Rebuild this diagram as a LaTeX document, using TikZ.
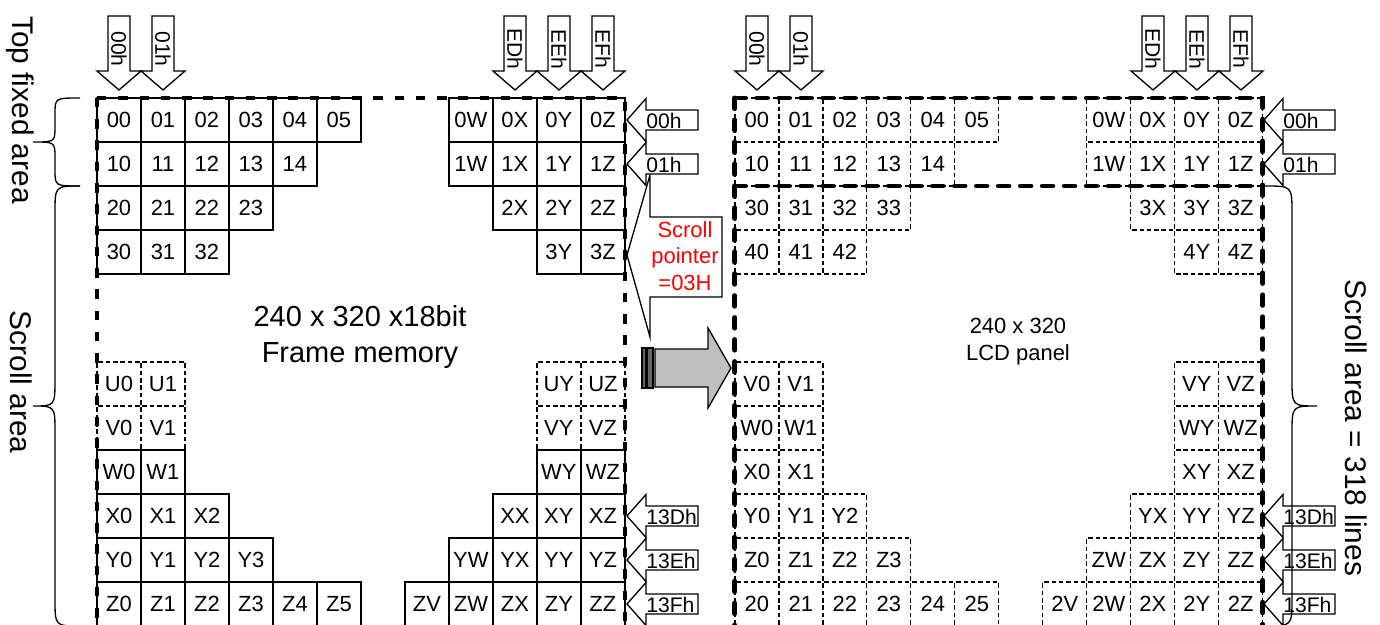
\documentclass[tikz,border=0pt]{standalone}
\usepackage{fontspec}
\setmainfont{Liberation Sans}

% 一行格子
\newcommand\cellrow[4]{%
  \foreach \col/\lab in {#4}
    \node[#2] (#1-#3-\col) at (\col+0.5,#3+0.5) {\lab};%
}
% 向下的块箭头
\newcommand\downblock[3]{%
  \draw[blockarrow] (#2-11,16) -- (#2+11,16) -- (#2+11,71) -- (#2+22,71)
    -- (#2,90) -- (#2-22,71) -- (#2-11,71) -- cycle;
  \node[arrowlabel, rotate=-90] (#1) at (#2,49) {#3};%
}
% 向左的块箭头
\newcommand\leftblock[4]{%
  \draw[blockarrow] (#2,#3) -- (#2+19,#3-21.5) -- (#2+19,#3-10) -- (#2+71,#3-10)
    -- (#2+71,#3+10) -- (#2+19,#3+10) -- (#2+19,#3+21.5) -- cycle;
  \node[arrowlabel, anchor=west] (#1) at (#2+19,#3+1) {#4};%
}

\begin{document}
\begin{tikzpicture}[x=0.02cm, y=-0.02cm,
    cellbox/.style={draw, line width=0.75pt, minimum size=0.88cm, inner sep=0pt,
      outer sep=0pt, font=\fontsize{12.5}{14}\selectfont},
    dashcell/.style={cellbox, dash pattern=on 2.6pt off 1.5732pt, dash phase=3.3866pt},
    blockarrow/.style={draw, fill=white, line width=0.75pt, line join=miter},
    arrowlabel/.style={inner sep=0pt, font=\fontsize{12}{14}\selectfont},
    memframe/.style={line width=2.5pt, dash pattern=on 5.4pt off 6.7pt},
    lcdframe/.style={line width=2.8pt, line cap=round, dash pattern=on 6pt off 6.5pt},
    sidelabel/.style={font=\fontsize{17}{20}\selectfont, rotate=-90},
    brace/.style={line width=0.75pt}]
  \useasboundingbox (0,0) rectangle (1380,625);
  \clip (0,0) rectangle (1380,625);

  % 帧存储器
  \begin{scope}[xshift=1.94cm, yshift=-1.96cm, x=0.88cm, y=-0.88cm]
    \cellrow{m}{cellbox}{0}{0/00,1/01,2/02,3/03,4/04,5/05,8/0W,9/0X,10/0Y,11/0Z}
    \cellrow{m}{cellbox}{1}{0/10,1/11,2/12,3/13,4/14,8/1W,9/1X,10/1Y,11/1Z}
    \cellrow{m}{cellbox}{2}{0/20,1/21,2/22,3/23,9/2X,10/2Y,11/2Z}
    \cellrow{m}{cellbox}{3}{0/30,1/31,2/32,10/3Y,11/3Z}
    \cellrow{m}{dashcell}{6}{0/U0,1/U1,10/UY,11/UZ}
    \cellrow{m}{dashcell}{7}{0/V0,1/V1,10/VY,11/VZ}
    \cellrow{m}{cellbox}{8}{0/W0,1/W1,10/WY,11/WZ}
    \cellrow{m}{cellbox}{9}{0/X0,1/X1,2/X2,9/XX,10/XY,11/XZ}
    \cellrow{m}{cellbox}{10}{0/Y0,1/Y1,2/Y2,3/Y3,8/YW,9/YX,10/YY,11/YZ}
    \cellrow{m}{cellbox}{11}{0/Z0,1/Z1,2/Z2,3/Z3,4/Z4,5/Z5,7/ZV,8/ZW,9/ZX,10/ZY,11/ZZ}
    \draw[memframe] (0,0) -- (0,12.5);
    \draw[memframe] (0,0) -- (12,0) -- (12,12.5);
  \end{scope}
  \node[font=\fontsize{16.5}{20}\selectfont, align=center] (memtitle) at (360,337)
    {240 x 320 x18bit\\Frame memory};

  % LCD 面板
  \begin{scope}[xshift=14.7cm, yshift=-1.96cm, x=0.88cm, y=-0.88cm]
    \cellrow{l}{dashcell}{0}{0/00,1/01,2/02,3/03,4/04,5/05,8/0W,9/0X,10/0Y,11/0Z}
    \cellrow{l}{dashcell}{1}{0/10,1/11,2/12,3/13,4/14,8/1W,9/1X,10/1Y,11/1Z}
    \cellrow{l}{dashcell}{2}{0/30,1/31,2/32,3/33,9/3X,10/3Y,11/3Z}
    \cellrow{l}{dashcell}{3}{0/40,1/41,2/42,10/4Y,11/4Z}
    \cellrow{l}{dashcell}{6}{0/V0,1/V1,10/VY,11/VZ}
    \cellrow{l}{dashcell}{7}{0/W0,1/W1,10/WY,11/WZ}
    \cellrow{l}{dashcell}{8}{0/X0,1/X1,10/XY,11/XZ}
    \cellrow{l}{dashcell}{9}{0/Y0,1/Y1,2/Y2,9/YX,10/YY,11/YZ}
    \cellrow{l}{dashcell}{10}{0/Z0,1/Z1,2/Z2,3/Z3,8/ZW,9/ZX,10/ZY,11/ZZ}
    \cellrow{l}{dashcell}{11}{0/20,1/21,2/22,3/23,4/24,5/25,7/2V,8/2W,9/2X,10/2Y,11/2Z}
    \draw[lcdframe] (0,0) -- (0,12.5);
    \draw[lcdframe] (0,0) -- (12,0) -- (12,12.5);
    \draw[lcdframe] (0,2) -- (12,2);
  \end{scope}
  \node[font=\fontsize{12.5}{15.4}\selectfont, align=center] (lcdtitle) at (1018,342)
    {240 x 320\\LCD panel};

  % 上方箭头
  \downblock{m-a00}{119}{00h}
  \downblock{m-a01}{163}{01h}
  \downblock{m-aED}{515}{EDh}
  \downblock{m-aEE}{559}{EEh}
  \downblock{m-aEF}{603}{EFh}
  \downblock{l-a00}{757}{00h}
  \downblock{l-a01}{801}{01h}
  \downblock{l-aED}{1153}{EDh}
  \downblock{l-aEE}{1197}{EEh}
  \downblock{l-aEF}{1241}{EFh}

  % 滚动指针
  \draw[blockarrow] (627,255) -- (650,175) -- (650,217) -- (722,217) -- (722,297)
    -- (650,297) -- (650,337) -- cycle;
  \node[text=red, align=center, font=\fontsize{12.5}{15}\selectfont] (ptr) at (685,256)
    {Scroll\\pointer\\=03H};

  % 右侧箭头
  \leftblock{m-r00}{627}{120}{00h}
  \leftblock{m-r01}{627}{164}{01h}
  \leftblock{m-r13D}{627}{516}{13Dh}
  \leftblock{m-r13E}{627}{560}{13Eh}
  \leftblock{m-r13F}{627}{604}{13Fh}
  \leftblock{l-r00}{1264}{120}{00h}
  \leftblock{l-r01}{1264}{164}{01h}
  \leftblock{l-r13D}{1264}{516}{13Dh}
  \leftblock{l-r13E}{1264}{560}{13Eh}
  \leftblock{l-r13F}{1264}{604}{13Fh}

  % 灰色箭头
  \draw[fill=gray!50, line width=0.75pt] (655,349) -- (708,349) -- (708,328) -- (731,368)
    -- (708,408) -- (708,387) -- (655,387) -- cycle;
  \draw[fill=black!60, line width=0.6pt] (642,348) rectangle (646,388);
  \draw[fill=black!60, line width=0.6pt] (647,348) rectangle (653,388);

  % 花括号
  \draw[brace] (80,98) .. controls (55,98) .. (55,114) -- (55,126)
    .. controls (55,142) .. (33,142) .. controls (55,142) .. (55,158)
    -- (55,170) .. controls (55,186) .. (80,186);
  \draw[brace] (80,186) .. controls (55,186) .. (55,213) -- (55,379)
    .. controls (55,406) .. (33,406) .. controls (55,406) .. (55,433)
    -- (55,599) .. controls (55,626) .. (80,626);
  \draw[brace] (1265,186) .. controls (1292,186) .. (1292,213) -- (1292,379)
    .. controls (1292,406) .. (1317,406) .. controls (1292,406) .. (1292,433)
    -- (1292,599) .. controls (1292,626) .. (1265,626);

  \node[sidelabel] (topfixed) at (20,110) {Top fixed area};
  \node[sidelabel] (scrollL) at (21,382) {Scroll area};
  \node[sidelabel] (scrollR) at (1356,428) {Scroll area = 318 lines};
\end{tikzpicture}
\end{document}
